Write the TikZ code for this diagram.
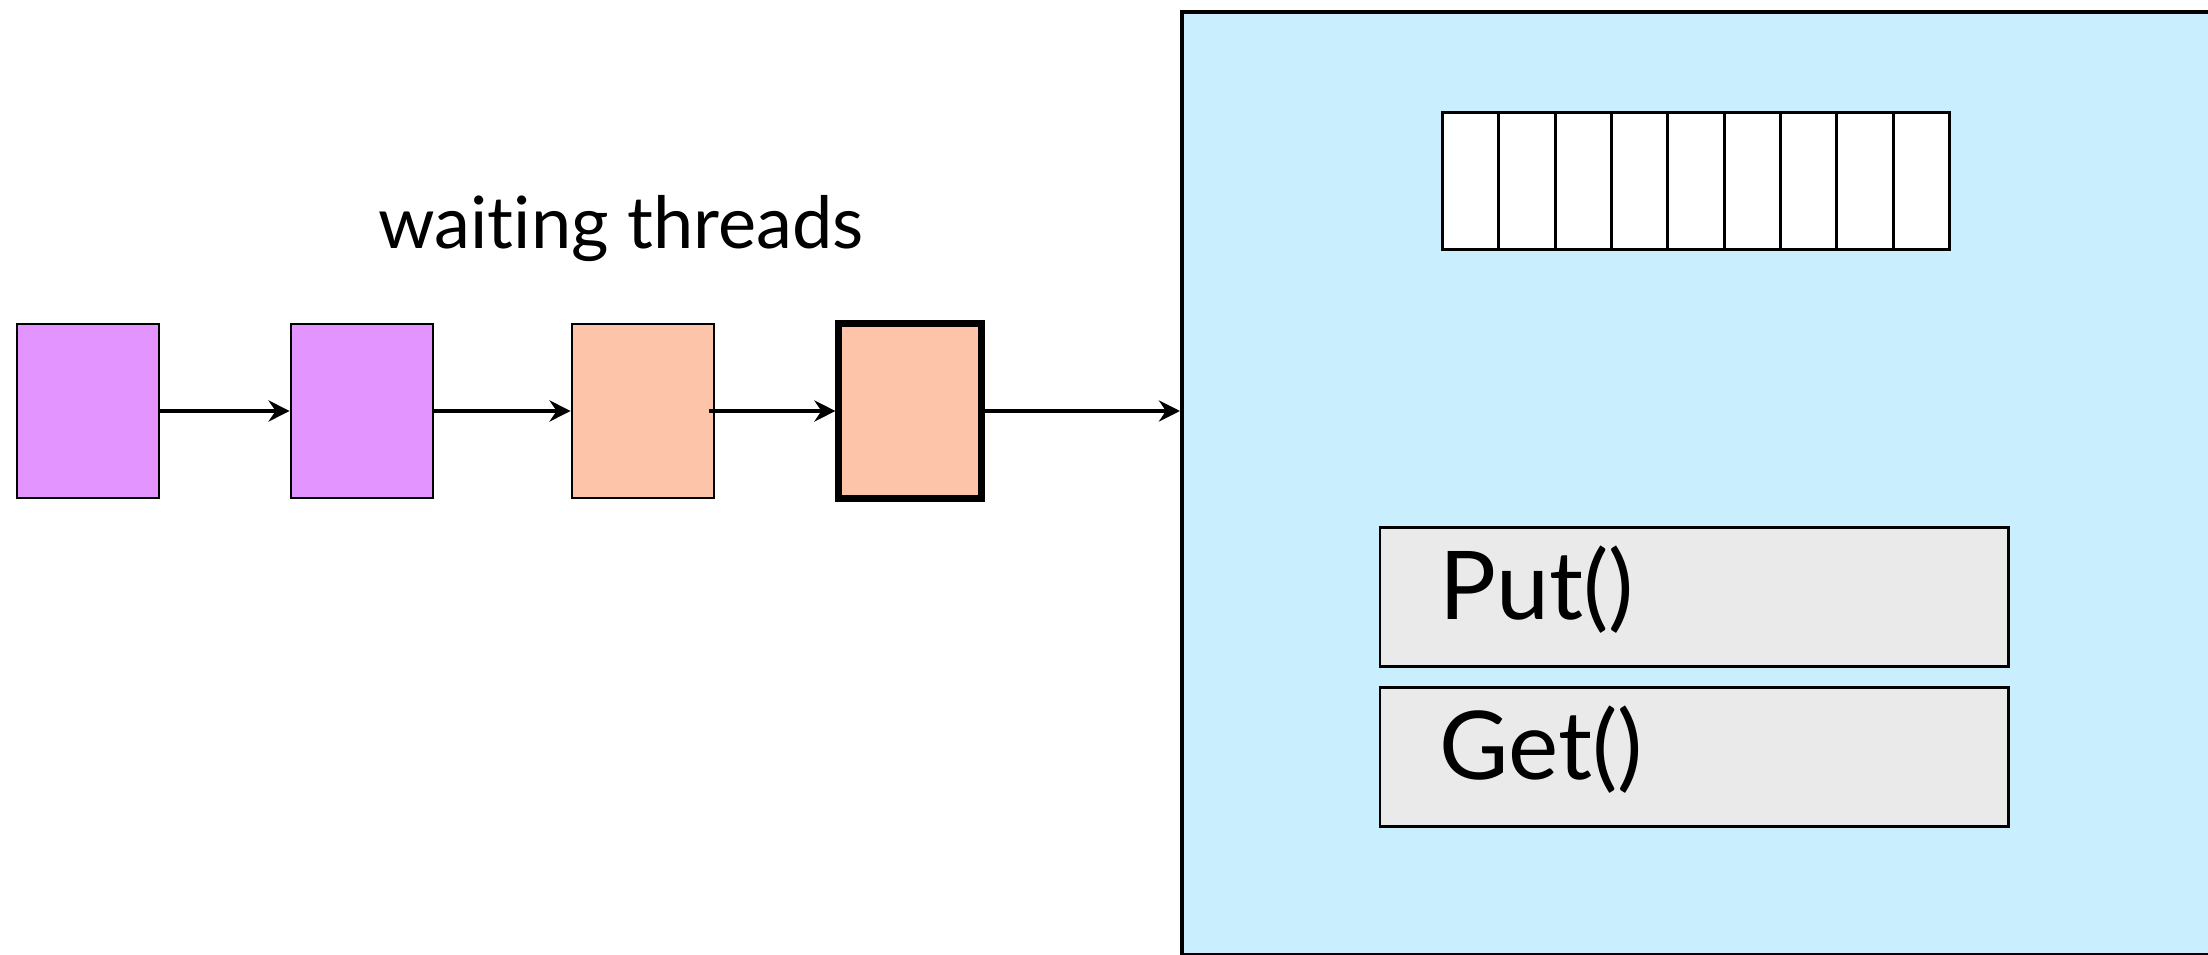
\documentclass[tikz,border=0pt]{standalone}
\usepackage{fontspec}
\setmainfont{Lato}[Ligatures=NoCommon]
\usetikzlibrary{arrows.meta}
\definecolor{threadA}{HTML}{E394FE}
\definecolor{threadB}{HTML}{FEC4AA}
\definecolor{monitor}{HTML}{C9EEFD}
\definecolor{method}{HTML}{EAEAEA}
\tikzset{
  thread/.style={draw, line width=0.75pt, inner sep=0pt, minimum width=1.42cm, minimum height=1.74cm},
  link/.style={line width=1pt, -{Stealth[length=6pt, width=6pt, inset=2pt]}},
  methbox/.style={draw, fill=method, line width=0.75pt, inner sep=0pt, minimum width=6.28cm, minimum height=1.39cm},
  cell/.style={draw, fill=white, line width=0.85pt, inner sep=0pt, minimum width=0.5633cm, minimum height=1.37cm},
}
\begin{document}
\begin{tikzpicture}[x=0.01cm, y=-0.01cm]
  \useasboundingbox (0,0) rectangle (2208,955);
  \clip (0,0) rectangle (2208,955);

  % monitor object
  \node[draw, fill=monitor, line width=1.2pt, inner sep=0pt, anchor=north west,
        minimum width=10.6cm, minimum height=9.42cm] (mon) at (1180,10) {};

  % bounded buffer
  \foreach \i in {0,...,8} {
    \node[cell, anchor=north west] (c\i) at ({1441+56.33*\i},111) {};
  }

  % methods
  \node[methbox] (put) at (1694,597) {};
  \node[anchor=base west, inner sep=0pt, font=\fontsize{27}{30}\selectfont] (putlbl) at (1439,620) {Put()};
  \node[methbox] (get) at (1694,757) {};
  \node[anchor=base west, inner sep=0pt, font=\fontsize{27}{30}\selectfont] (getlbl) at (1439,779) {Get()};

  % queue of waiting threads
  \node[anchor=base, inner sep=0pt, font=\fontsize{20.5}{24}\selectfont] (title) at (621,249) {waiting threads};
  \node[thread, fill=threadA] (t1) at (88,411) {};
  \node[thread, fill=threadA] (t2) at (362,411) {};
  \node[thread, fill=threadB] (t3) at (643,411) {};
  \node[thread, fill=threadB, line width=2pt] (t4) at (910,411) {};

  \draw[link] (t1.east) -- (t2.west);
  \draw[link] (t2.east) -- (t3.west);
  \draw[link] ([xshift=-0.06cm]t3.east) -- (t4.west);
  \draw[link] (t4.east) -- (mon.west |- t4.east);
\end{tikzpicture}
\end{document}
